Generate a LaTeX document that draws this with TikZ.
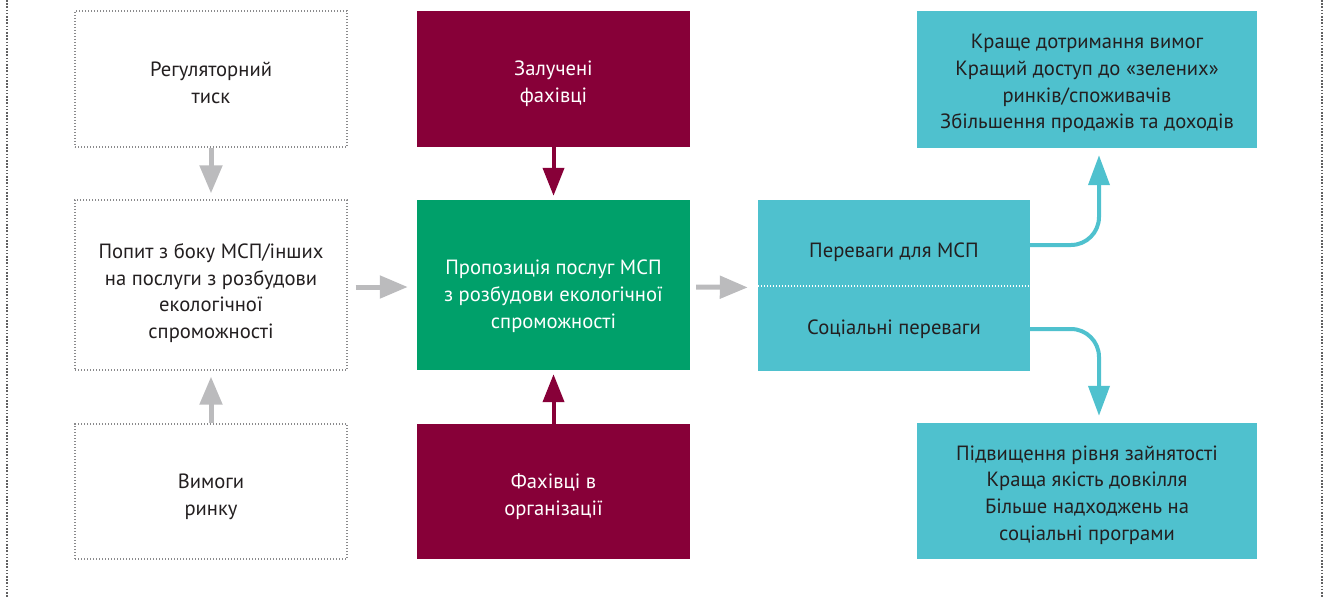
\documentclass[tikz,border=0pt]{standalone}
\usepackage{fontspec}
\setmainfont{PT Sans}
\usetikzlibrary{arrows.meta}
\definecolor{maroon}{HTML}{870038}
\definecolor{egreen}{HTML}{00A06A}
\definecolor{ecyan}{HTML}{4FC1CE}
\definecolor{agray}{HTML}{BBBBBD}
\definecolor{bgray}{HTML}{8A8A8C}
\definecolor{txt}{HTML}{231F20}
\tikzset{
  base/.style={rectangle, inner sep=0pt, align=center, font=\fontsize{20.6}{26.8}\selectfont},
  dtext/.style={base, text=txt},
  wtext/.style={base, text=white},
  outline/.style={base, draw=bgray, line width=1.3pt, dash pattern=on 1.3pt off 1.7pt},
  mbox/.style={base, fill=maroon},
  gbox/.style={base, fill=egreen},
  cbox/.style={base, fill=ecyan},
  garrow/.style={draw=agray, line width=5pt, -{Triangle[width=22pt,length=28pt]}},
  marrow/.style={draw=maroon, line width=4pt, -{Triangle[width=21pt,length=28pt]}},
  carrow/.style={draw=ecyan, line width=4pt, rounded corners=28pt, -{Triangle[width=21pt,length=30pt]}},
  frame/.style={draw=bgray!70!black, line width=2.4pt, dash pattern=on 1.6pt off 1.6pt},
}
\begin{document}
\begin{tikzpicture}[x=1pt, y=-1pt]
\useasboundingbox (0,0) rectangle (1325,597);
% outer dotted frame lines
\coordinate (fl1) at (7,0); \coordinate (fl2) at (7,597);
\coordinate (fr1) at (1322,0); \coordinate (fr2) at (1322,597);
\draw[frame] (fl1) -- (fl2);
\draw[frame] (fr1) -- (fr2);
% left column
\node[outline, minimum width=272, minimum height=136] (reg) at (211,79) {};
\node[dtext] (regt) at ([yshift=-4pt]reg.center) {Регуляторний\\тиск};
\node[outline, minimum width=272, minimum height=170] (dem) at (211,285) {};
\node[dtext] (demt) at ([yshift=-8pt]dem.center) {Попит з боку МСП/інших\\на послуги з розбудови\\екологічної\\спроможності};
\node[outline, minimum width=272, minimum height=135] (mkt) at (211,491.5) {};
\node[dtext] (mktt) at ([yshift=-5pt]mkt.center) {Вимоги\\ринку};
% middle column
\node[mbox, minimum width=273, minimum height=136] (zal) at (553.5,79) {};
\node[wtext] (zalt) at ([yshift=-5pt]zal.center) {Залучені\\фахівці};
\node[gbox, minimum width=273, minimum height=170] (prop) at (553.5,285) {};
\node[wtext] (propt) at ([yshift=-11pt]prop.center) {Пропозиція послуг МСП\\з розбудови екологічної\\спроможності};
\node[mbox, minimum width=273, minimum height=135] (fah) at (553.5,491.5) {};
\node[wtext] (faht) at ([yshift=-5pt]fah.center) {Фахівці в\\організації};
% benefits box
\node[cbox, minimum width=272, minimum height=171] (ben) at (894,285.5) {};
\node[dtext] (ben1) at (894,252) {Переваги для МСП};
\node[dtext] (ben2) at (894,329) {Соціальні переваги};
\draw[white, line width=1.3pt, dash pattern=on 1.3pt off 1.7pt] (ben.west |- 0,286) -- (ben.east |- 0,286);
% right column
\node[cbox, minimum width=340, minimum height=137] (tr) at (1087,79.5) {};
\node[dtext] (trt) at ([yshift=-4pt]tr.center) {Краще дотримання вимог\\Кращий доступ до «зелених»\\ринків/споживачів\\Збільшення продажів та доходів};
\node[cbox, minimum width=340, minimum height=136] (br) at (1087,491) {};
\node[dtext] (brt) at ([yshift=-4pt]br.center) {Підвищення рівня зайнятості\\Краща якість довкілля\\Більше надходжень на\\соціальні програми};
% gray arrows
\draw[garrow, shorten >=6pt] (reg.south) -- (dem.north);
\draw[garrow, shorten >=6pt] (mkt.north) -- (dem.south);
\draw[garrow, shorten <=8pt, shorten >=9pt] ([yshift=-2pt]dem.east) -- ([yshift=-2pt]prop.west);
\draw[garrow, shorten <=6pt, shorten >=10pt] ([yshift=-2pt]prop.east) -- ([yshift=-2pt]ben.west);
% maroon arrows
\draw[marrow, shorten >=4pt] (zal.south) -- (prop.north);
\draw[marrow, shorten >=4pt] (fah.north) -- (prop.south);
% cyan arrows
\coordinate (b1) at (ben.east |- 0,245);
\coordinate (b2) at (ben.east |- 0,329);
\draw[carrow, shorten >=7pt] (b1) -| ([xshift=12pt]tr.south);
\draw[carrow, shorten >=7pt] (b2) -| ([xshift=12pt]br.north);
\end{tikzpicture}
\end{document}
